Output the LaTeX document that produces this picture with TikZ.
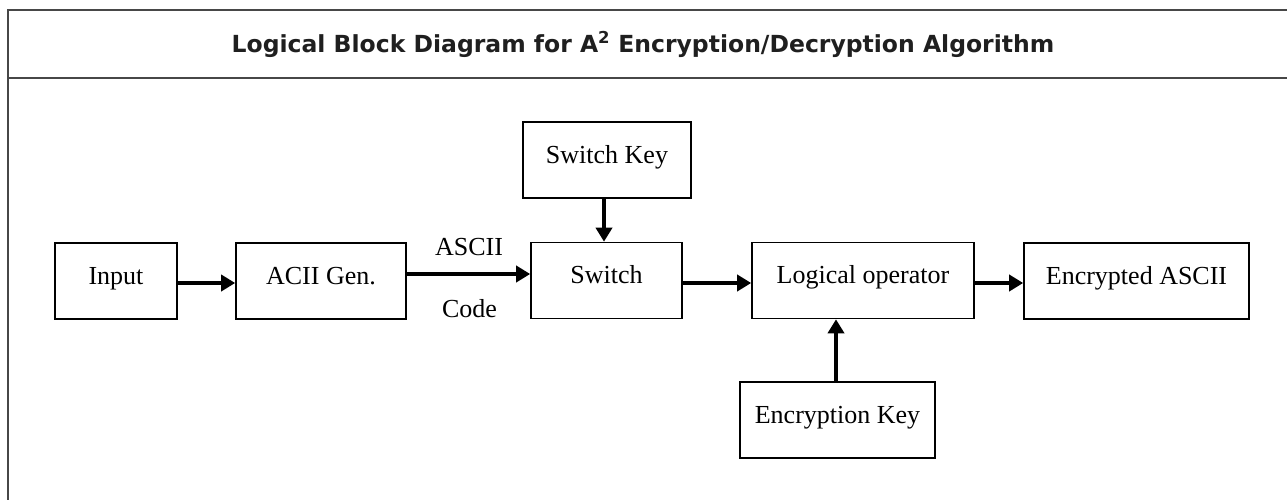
\documentclass[tikz,border=0pt]{standalone}
\usepackage{fontspec}
\setmainfont{Liberation Serif}
\newfontfamily\titlefont{DejaVu Sans}
\usetikzlibrary{arrows.meta}

\begin{document}
\begin{tikzpicture}[x=1pt,y=-1pt,
  blk/.style={draw=black, line width=1.6pt, inner sep=0pt,
    text height=41pt, text depth=35pt, minimum height=76pt,
    font=\fontsize{26}{30}\selectfont},
  arr/.style={line width=4pt, -{Triangle[length=14pt,width=16pt]}},
  framestroke/.style={draw=black!72, line width=2pt},
  lbl/.style={font=\fontsize{26}{30}\selectfont, inner sep=0pt, anchor=base}]
\useasboundingbox (0,0) rectangle (1287,500);

% outer frame and header rule
\draw[framestroke] (8,500) -- (8,10) -- (1287,10);
\draw[framestroke] (8,78) -- (1287,78);

% heading
\node[anchor=base, inner sep=0pt, text=black!88,
  font=\titlefont\bfseries\fontsize{23.5}{28}\selectfont] (title) at (643,53)
  {Logical Block Diagram for A\textsuperscript{2} Encryption/Decryption Algorithm};

% blocks
\node[blk, minimum width=122pt] (input) at (116,281) {Input};
\node[blk, minimum width=170pt] (acii) at (321,281) {ACII Gen.};
\node[blk, minimum width=151pt] (switch) at (606.5,280.5) {Switch};
\node[blk, minimum width=168pt] (skey) at (607,160) {Switch Key};
\node[blk, minimum width=222pt] (logic) at (863,280.5) {Logical operator};
\node[blk, minimum width=225pt] (enc) at (1136.5,281) {Encrypted ASCII};
\node[blk, minimum width=195pt] (ekey) at (837.5,420) {Encryption Key};

% labels of the code link
\node[lbl] (ascii) at (469,255) {ASCII};
\node[lbl] (code) at (469.5,317) {Code};

% connectors
\draw[arr] ([yshift=-2pt]input.east) -- ([yshift=-2pt]acii.west);
\draw[arr] ([yshift=7pt]acii.east) -- ([yshift=6.5pt]switch.west);
\draw[arr] ([yshift=-2.5pt]switch.east) -- ([yshift=-2.5pt]logic.west);
\draw[arr] ([yshift=-2.5pt]logic.east) -- ([yshift=-2pt]enc.west);
\draw[arr] ([xshift=-3pt]skey.south) -- ([xshift=-2.5pt]switch.north);
\draw[arr] ([xshift=-1.5pt]ekey.north) -- ([xshift=-1.5pt]ekey.north |- logic.south);
\end{tikzpicture}
\end{document}
